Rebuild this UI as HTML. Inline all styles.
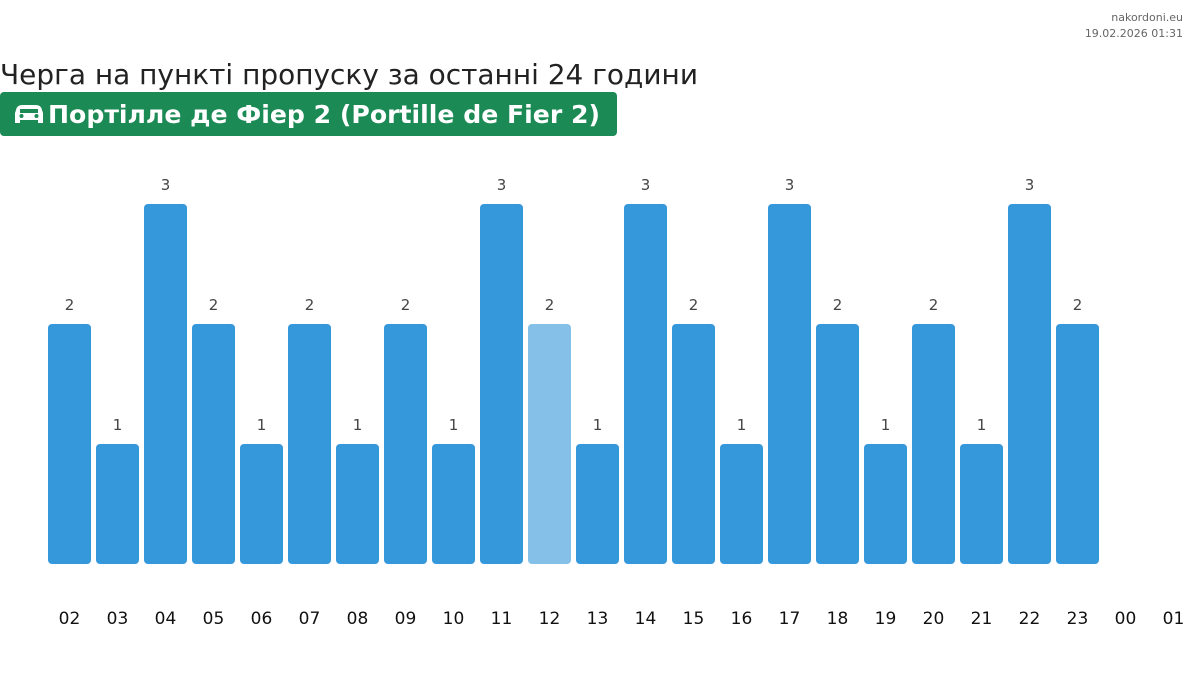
<!DOCTYPE html>
<html><head><meta charset="utf-8"><style>
body{margin:0;width:1200px;height:684px;background:#fff;overflow:hidden;font-family:"DejaVu Sans","Liberation Sans",sans-serif;}
</style></head><body>
<svg width="1200" height="684" xmlns="http://www.w3.org/2000/svg" font-family="DejaVu Sans, Liberation Sans, sans-serif">
<text x="1183" y="21" font-size="11" fill="#666" text-anchor="end">nakordoni.eu</text>
<text x="1183" y="37" font-size="11" fill="#666" text-anchor="end">19.02.2026 01:31</text>
<text x="0" y="84" font-size="27.5" fill="#222" textLength="698" lengthAdjust="spacingAndGlyphs">Черга на пункті пропуску за останні 24 години</text>
<rect x="0" y="92" width="617" height="44" rx="4" fill="#1b8a55"/>
<g fill="#fff">
<path d="M16 110 q1-5 6-5 h14 q5 0 6 5 l1 3 v10 h-5 v-3 h-18 v3 h-5 v-10z"/>
<rect x="20" y="109" width="18" height="4" fill="#1b8a55"/>
<circle cx="21.5" cy="116" r="2" fill="#1b8a55"/><circle cx="36.5" cy="116" r="2" fill="#1b8a55"/>
</g>
<text x="48" y="123" font-size="25" font-weight="bold" fill="#fff" textLength="552" lengthAdjust="spacingAndGlyphs">Портілле де Фіер 2 (Portille de Fier 2)</text>
<g id="bars"></g>
</svg>
<script>
var v=[2,1,3,2,1,2,1,2,1,3,2,1,3,2,1,3,2,1,2,1,3,2];
var lb=["02","03","04","05","06","07","08","09","10","11","12","13","14","15","16","17","18","19","20","21","22","23","00","01"];
var g=document.getElementById("bars"),s="";
for(var i=0;i<24;i++){var cx=69.5+48*i;
if(i<22){var h=v[i]*120,y=564-h;
s+='<rect x="'+(cx-21.5)+'" y="'+y+'" width="43" height="'+h+'" rx="4" fill="'+(i==10?'#85c0e9':'#3498db')+'"/>';
s+='<text x="'+cx+'" y="'+(y-14)+'" font-size="15" fill="#444" text-anchor="middle">'+v[i]+'</text>';}
s+='<text x="'+cx+'" y="624" font-size="17" fill="#111" text-anchor="middle">'+lb[i]+'</text>';}
g.innerHTML=s;
</script>
</body></html>
